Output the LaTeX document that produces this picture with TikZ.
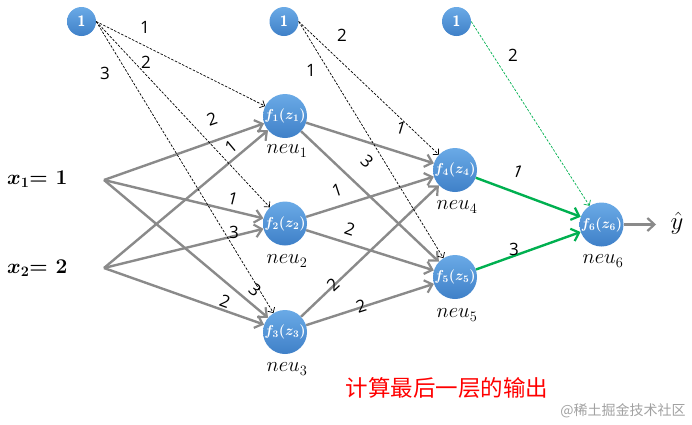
\documentclass[tikz,border=0pt]{standalone}
\usepackage{amsmath,bm}
\usepackage{fontspec}
\newfontfamily\numfont{Open Sans}
\newfontfamily\cjk{Noto Sans CJK SC}
\usetikzlibrary{arrows.meta}
\definecolor{ntop}{HTML}{6AAAE6}
\definecolor{nbot}{HTML}{3F80C8}
\definecolor{lgray}{HTML}{8A8A8A}
\definecolor{lgreen}{HTML}{00B050}
\tikzset{
  neuron/.style={circle, minimum size=44pt, inner sep=0pt, top color=ntop, bottom color=nbot, draw=none, text=white, font=\fontsize{14}{14}\selectfont},
  bias/.style={circle, minimum size=29pt, inner sep=0pt, top color=ntop, bottom color=nbot, draw=none, text=white, font=\sffamily\bfseries\fontsize{15}{15}\selectfont},
  conn/.style={draw=lgray, line width=2.4pt, -{Straight Barb[length=7pt,width=13pt,line width=2.2pt]}},
  gconn/.style={draw=lgreen, line width=2.4pt, -{Straight Barb[length=7pt,width=13pt,line width=2.2pt]}},
  bconn/.style={draw=black, line width=0.7pt, dash pattern=on 2.5pt off 1.5pt, -{Straight Barb[length=4pt,width=8pt,line width=0.7pt]}},
  gbconn/.style={draw=lgreen, line width=0.7pt, dash pattern=on 2.5pt off 1.5pt, -{Straight Barb[length=4pt,width=8pt,line width=0.7pt]}},
  wt/.style={font=\numfont\fontsize{17}{17}\selectfont, inner sep=0pt},
  nlab/.style={font=\fontsize{21}{21}\selectfont, inner sep=0pt},
  xlab/.style={font=\fontsize{21}{21}\selectfont, inner sep=0pt},
}
\begin{document}
\begin{tikzpicture}[x=1pt,y=-1pt]
\useasboundingbox (0,0) rectangle (692,424);
% bias nodes
\node[bias] (b1) at (81.5,21.5) {1};
\node[bias] (b2) at (284,21.5) {1};
\node[bias] (b3) at (456.5,21.5) {1};
% neurons
\node[neuron] (n1) at (285,116) {$\bm{f_1(z_1)}$};
\node[neuron] (n2) at (285,223.5) {$\bm{f_2(z_2)}$};
\node[neuron] (n3) at (285,332) {$\bm{f_3(z_3)}$};
\node[neuron] (n4) at (455,170) {$\bm{f_4(z_4)}$};
\node[neuron] (n5) at (455,277) {$\bm{f_5(z_5)}$};
\node[neuron] (n6) at (601.5,224.5) {$\bm{f_6(z_6)}$};
% neuron labels
\node[nlab] (l1) at (287,151) {$neu_1$};
\node[nlab] (l2) at (287,261) {$neu_2$};
\node[nlab] (l3) at (287,369) {$neu_3$};
\node[nlab] (l4) at (457,207) {$neu_4$};
\node[nlab] (l5) at (457,315) {$neu_5$};
\node[nlab] (l6) at (603,261) {$neu_6$};
% inputs
\node[xlab, anchor=west] (x1) at (7,179) {$\bm{x_1}$\textbf{= 1}};
\node[xlab, anchor=west] (x2) at (7,268) {$\bm{x_2}$\textbf{= 2}};
\coordinate (s1) at (104,180);
\coordinate (s2) at (104,268);
% output
\node[font=\fontsize{25}{25}\selectfont, inner sep=0pt] (y) at (677,223) {$\hat{y}$};
\coordinate (yend) at (656,224.5);
% layer 1 connections
\draw[conn] (s1) -- (n1);
\draw[conn] (s1) -- (n2);
\draw[conn] (s1) -- (n3);
\draw[conn] (s2) -- (n1);
\draw[conn] (s2) -- (n2);
\draw[conn] (s2) -- (n3);
% layer 2 connections
\draw[conn] (n1) -- (n4);
\draw[conn] (n1) -- (n5);
\draw[conn] (n2) -- (n4);
\draw[conn] (n2) -- (n5);
\draw[conn] (n3) -- (n4);
\draw[conn] (n3) -- (n5);
% output layer
\draw[gconn] (n4) -- (n6);
\draw[gconn] (n5) -- (n6);
\draw[conn] (n6) -- (yend);
% bias connections
\draw[bconn] (b1.east) -- (n1);
\draw[bconn] (b1.east) -- (n2);
\draw[bconn] (b1.east) -- (n3);
\draw[bconn] (b2.east) -- (n4);
\draw[bconn] (b2.east) -- (n5);
\draw[gbconn] (b3.east) -- (n6);
% weight labels
\node[wt] (w1) at (145,27) {1};
\node[wt] (w2) at (146,62) {2};
\node[wt] (w3) at (105,73) {3};
\node[wt] (w4) at (342,35) {2};
\node[wt] (w5) at (311,70) {1};
\node[wt] (w6) at (513,55) {2};
\node[wt, rotate=19] (w7) at (212,119) {2};
\node[wt, rotate=40] (w8) at (231,147) {1};
\node[wt, rotate=-14] (w9) at (233,199) {1};
\node[wt] (w10) at (234,232) {3};
\node[wt, rotate=-40] (w11) at (255,290) {3};
\node[wt, rotate=-20] (w12) at (225,301) {2};
\node[wt, rotate=-17] (w13) at (401,128) {1};
\node[wt, rotate=-43] (w14) at (367,161) {3};
\node[wt, rotate=18] (w15) at (337,190) {1};
\node[wt, rotate=-18] (w16) at (350,229) {2};
\node[wt, rotate=43] (w17) at (333,285) {2};
\node[wt, rotate=18] (w18) at (361,306) {2};
\node[wt, rotate=-21] (w19) at (518,172) {1};
\node[wt] (w20) at (514,249) {3};
% captions
\node[text=red, font=\cjk\fontsize{22.5}{22.5}\selectfont, inner sep=0pt] (cap) at (447,388) {计算最后一层的输出};
\node[text=lgray!80, font=\cjk\fontsize{14}{14}\selectfont, inner sep=0pt] (wm) at (623,411) {@稀土掘金技术社区};
\end{tikzpicture}
\end{document}
